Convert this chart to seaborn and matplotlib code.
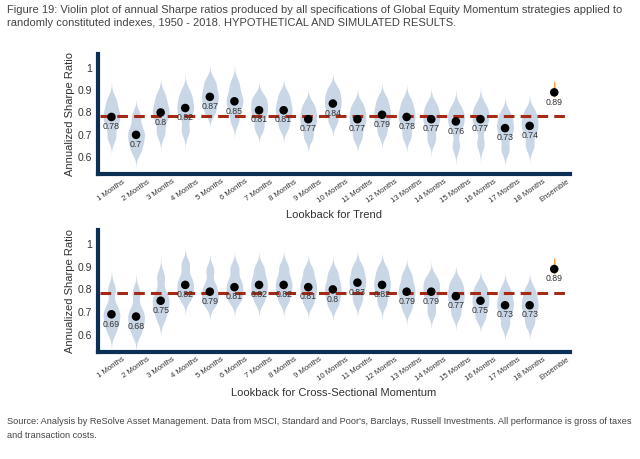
import matplotlib
matplotlib.use("Agg")
import matplotlib.pyplot as plt
import seaborn as sns
import pandas as pd

# categories
groups = [f"{i} Months" for i in range(1, 19)] + ["Ensemble"]

# mean Sharpe (dots + labels)
trend_means = [0.78, 0.7, 0.8, 0.82, 0.87, 0.85, 0.81, 0.81, 0.77, 0.84,
               0.77, 0.79, 0.78, 0.77, 0.76, 0.77, 0.73, 0.74, 0.89]
xs_means = [0.69, 0.68, 0.75, 0.82, 0.79, 0.81, 0.82, 0.82, 0.81, 0.8,
            0.83, 0.82, 0.79, 0.79, 0.77, 0.75, 0.73, 0.73, 0.89]

# rough spread read off each violin body: q05, q25, median, q75, q95
trend_dist = [
    [0.69, 0.75, 0.78, 0.81, 0.855],
    [0.63, 0.67, 0.70, 0.73, 0.785],
    [0.71, 0.77, 0.80, 0.83, 0.875],
    [0.72, 0.79, 0.82, 0.85, 0.89],
    [0.80, 0.84, 0.87, 0.90, 0.94],
    [0.765, 0.82, 0.85, 0.88, 0.93],
    [0.73, 0.78, 0.81, 0.84, 0.87],
    [0.735, 0.78, 0.81, 0.84, 0.88],
    [0.69, 0.74, 0.77, 0.80, 0.835],
    [0.76, 0.81, 0.84, 0.87, 0.905],
    [0.69, 0.74, 0.77, 0.80, 0.835],
    [0.71, 0.76, 0.79, 0.82, 0.86],
    [0.695, 0.75, 0.78, 0.81, 0.85],
    [0.68, 0.74, 0.77, 0.80, 0.835],
    [0.65, 0.73, 0.76, 0.79, 0.82],
    [0.66, 0.74, 0.77, 0.80, 0.83],
    [0.635, 0.70, 0.73, 0.76, 0.795],
    [0.65, 0.71, 0.74, 0.77, 0.805],
]
xs_dist = [
    [0.62, 0.66, 0.69, 0.72, 0.80],
    [0.61, 0.65, 0.68, 0.71, 0.785],
    [0.675, 0.72, 0.75, 0.78, 0.855],
    [0.76, 0.79, 0.82, 0.85, 0.91],
    [0.735, 0.76, 0.79, 0.82, 0.885],
    [0.75, 0.78, 0.81, 0.84, 0.895],
    [0.75, 0.79, 0.82, 0.85, 0.895],
    [0.75, 0.79, 0.82, 0.85, 0.90],
    [0.74, 0.78, 0.81, 0.84, 0.885],
    [0.73, 0.77, 0.80, 0.83, 0.875],
    [0.75, 0.80, 0.83, 0.86, 0.90],
    [0.74, 0.79, 0.82, 0.85, 0.89],
    [0.715, 0.76, 0.79, 0.82, 0.865],
    [0.70, 0.76, 0.79, 0.82, 0.85],
    [0.69, 0.74, 0.77, 0.80, 0.835],
    [0.675, 0.72, 0.75, 0.78, 0.815],
    [0.645, 0.70, 0.73, 0.76, 0.80],
    [0.65, 0.70, 0.73, 0.76, 0.80],
]
ensemble_dist = [0.875, 0.89, 0.9, 0.915, 0.935]
avg_line = 0.785

title = ("Figure 19: Violin plot of annual Sharpe ratios produced by all specifications of Global Equity Momentum strategies applied to\n"
         "randomly constituted indexes, 1950 - 2018. HYPOTHETICAL AND SIMULATED RESULTS.")
source = ("Source: Analysis by ReSolve Asset Management. Data from MSCI, Standard and Poor's, Barclays, Russell Investments. All performance is gross of taxes\n"
          "and transaction costs.")

sns.set_style("white")
plt.rcParams["font.family"] = ["Liberation Sans", "DejaVu Sans"]

navy = "#0c2f56"
red = "#a52a16"

fig = plt.figure(figsize=(6.4, 4.59), dpi=100)
ax1 = fig.add_axes([0.153, 0.621, 0.738, 0.262])
ax2 = fig.add_axes([0.153, 0.234, 0.738, 0.265])


def long_frame(dist):
    rows = []
    for g, vals in zip(groups, dist):
        for v in vals:
            rows.append({"group": g, "sharpe": v})
    return pd.DataFrame(rows)


def panel(ax, dist, means, xlabel):
    df = long_frame(dist)
    sns.violinplot(data=df, x="group", y="sharpe", order=groups, color="#c9d6e6",
                   inner=None, cut=3, bw_adjust=0.6, density_norm="width",
                   width=0.68, linewidth=0, saturation=1, ax=ax)
    ens = pd.DataFrame({"group": "Ensemble", "sharpe": ensemble_dist})
    sns.violinplot(data=ens, x="group", y="sharpe", order=groups, color="#f2a93b",
                   inner=None, cut=0.5, bw_adjust=0.7, density_norm="width",
                   width=0.1, linewidth=0, saturation=1, ax=ax)
    ax.plot([-0.45, 18.62], [avg_line, avg_line], color=red, lw=2.2,
            linestyle=(0, (3.5, 2.0)), zorder=3)
    sns.scatterplot(x=list(range(len(groups))), y=means, color="black", s=38,
                    edgecolor="none", zorder=4, ax=ax)
    for i, m in enumerate(means):
        ax.annotate(f"{m:g}", (i, m), xytext=(0, -7), textcoords="offset points",
                    ha="center", va="center", fontsize=6.3, color="#333333", zorder=5)
    ax.set_xlim(-0.55, 18.65)
    ax.set_ylim(0.525, 1.063)
    ax.set_yticks([0.6, 0.7, 0.8, 0.9, 1.0])
    ax.set_yticklabels(["0.6", "0.7", "0.8", "0.9", "1"])
    ax.set_xticks(range(len(groups)))
    ax.set_xticklabels(groups, rotation=35, ha="center", fontsize=5.6, color="#333333")
    for s in ["top", "right"]:
        ax.spines[s].set_visible(False)
    for s in ["left", "bottom"]:
        ax.spines[s].set_color(navy)
        ax.spines[s].set_linewidth(3)
    ax.tick_params(axis="y", direction="inout", length=6, width=1.5, color="white",
                   pad=1, labelsize=7.5, labelcolor="#333333")
    ax.tick_params(axis="x", length=0, pad=3)
    ax.yaxis.set_zorder(3)
    ax.set_xlabel(xlabel, fontsize=8, color="#333333", labelpad=4)
    ax.set_ylabel("Annualized Sharpe Ratio", fontsize=8, color="#333333", labelpad=2)


panel(ax1, trend_dist, trend_means, "Lookback for Trend")
panel(ax2, xs_dist, xs_means, "Lookback for Cross-Sectional Momentum")

fig.text(0.011, 0.99, title, ha="left", va="top", fontsize=8.0, color="#444444",
         linespacing=1.4)
fig.text(0.011, 0.092, source, ha="left", va="top", fontsize=6.55, color="#444444",
         linespacing=1.75)

fig.savefig("out.png", dpi=100)
